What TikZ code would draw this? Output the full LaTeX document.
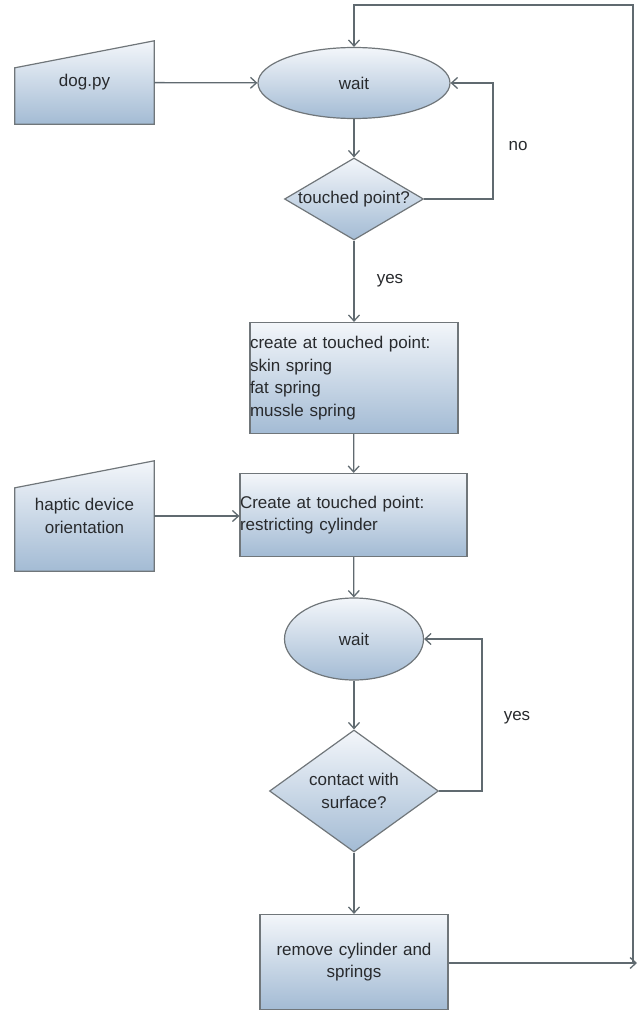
\documentclass[tikz,border=0pt]{standalone}
\usepackage{fontspec}
\setmainfont{Liberation Sans}
\usetikzlibrary{shapes.geometric,arrows.meta,backgrounds}
\definecolor{boxtop}{RGB}{243,246,250}
\definecolor{boxbot}{RGB}{163,187,212}
\definecolor{bordo}{RGB}{112,118,122}
\definecolor{filo}{RGB}{96,106,112}
\definecolor{scritta}{RGB}{40,42,45}

\begin{document}
\begin{tikzpicture}[x=1pt,y=-1pt,
    font=\fontsize{17}{22.5}\selectfont,text=scritta,
    blok/.style={draw=bordo,line width=1.2pt,top color=boxtop,bottom color=boxbot,inner sep=0pt},
    ovale/.style={blok,ellipse},
    rombo/.style={blok,diamond},
    ingresso/.style={minimum width=139pt,inner sep=0pt},
    freccia/.style={draw=filo,line width=1.3pt,-{Straight Barb[length=6pt,width=11pt]}}]
        \useasboundingbox (0,0) rectangle (640,1012);

        %ingressi
        \node[ingresso,minimum height=83pt] (dog) at (84.5,82.5) {dog.py};
        \node[ingresso,minimum height=110pt,align=center] (aptico) at (84.5,516) {haptic device\\orientation};
        \begin{pgfonlayer}{background}
          \draw[blok] (dog.south west) -- (dog.south east) -- (dog.north east)
            -- ([yshift=-27pt]dog.north west) -- cycle;
          \draw[blok] (aptico.south west) -- (aptico.south east) -- (aptico.north east)
            -- ([yshift=-27pt]aptico.north west) -- cycle;
        \end{pgfonlayer}

        %blocchi
        \node[ovale,minimum width=192pt,minimum height=71pt] (wait1) at (354,83) {wait};
        \node[rombo,minimum width=139pt,minimum height=82pt,aspect=1.7,
          label=center:{touched point?}] (tocco) at (354,199) {};
        \node[blok,text width=208pt,align=left,minimum height=111pt] (molle) at (354,378)
          {create at touched point:\\skin spring\\fat spring\\mussle spring};
        \node[blok,text width=227pt,align=left,minimum height=83pt] (cilindro) at (353.5,515)
          {Create at touched point:\\restricting cylinder};
        \node[ovale,minimum width=139pt,minimum height=82pt] (wait2) at (354,639) {wait};
        \node[rombo,minimum width=169pt,minimum height=122pt,aspect=1.39,
          label={[align=center]center:{contact with\\surface?}}] (contatto) at (354,791) {};
        \node[blok,text width=188pt,align=center,minimum height=95pt] (rimuovi) at (354,962)
          {remove cylinder and\\springs};

        %etichette
        \node (no) at (518,146) {no};
        \node (si1) at (390,281) {yes};
        \node (si2) at (517,718) {yes};

        %frecce
        \draw[freccia] (dog) -- (wait1);
        \draw[freccia] (wait1) -- (tocco);
        \draw[freccia] (tocco.east) -- ++(69,0) |- (wait1.east);
        \draw[freccia] (tocco) -- (molle);
        \draw[freccia] (molle) -- (cilindro);
        \draw[freccia] (aptico) -- (cilindro.west |- aptico);
        \draw[freccia] (cilindro) -- (wait2);
        \draw[freccia] (wait2) -- (contatto);
        \draw[freccia] (contatto.east) -- ++(43,0) |- (wait2.east);
        \draw[freccia] (contatto) -- (rimuovi);
        %ritorno
        \coordinate (angolo) at (637,963);
        \coordinate (cima) at (633,5);
        \draw[freccia] (rimuovi.east |- angolo) -- (angolo);
        \draw[freccia] (cima |- rimuovi.east) -- (cima) -| (wait1.north);
    \end{tikzpicture}
\end{document}
